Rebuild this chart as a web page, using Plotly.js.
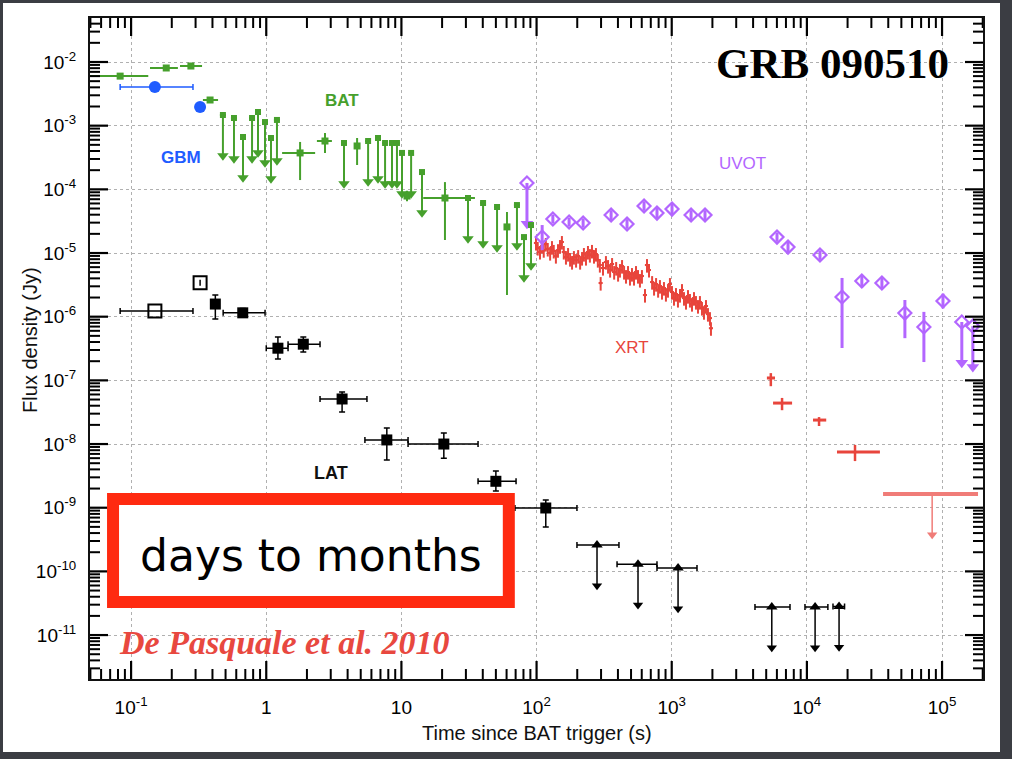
<!DOCTYPE html>
<html>
<head>
<meta charset="utf-8">
<script src="https://cdn.plot.ly/plotly-3.0.1.min.js"></script>
<style>
  html, body { margin: 0; padding: 0; width: 1012px; height: 759px; overflow: hidden; background: #3b3d43; }
  #card { position: absolute; left: 3px; top: 3px; width: 997px; height: 749px; background: #ffffff; }
  #chart { width: 997px; height: 749px; }
</style>
</head>
<body>
<div id="card"><div id="chart"></div></div>
<script>
// ---------------- GRB 090510 multi-wavelength light curve ----------------

// Fermi GBM (s, Jy)
const gbmT   = [0.150, 0.324];
const gbmTLo = [0.083, 0.312];
const gbmTHi = [0.287, 0.336];
const gbmF   = [4.05e-3, 1.96e-3];

// Swift BAT detections
const batT   = [0.083, 0.182, 0.277, 0.384, 1.78, 2.72, 4.70, 11.0, 21.0, 60.4];
const batTLo = [0.040, 0.138, 0.230, 0.340, 1.31, 2.37, 4.60, 10.6, 14.5, 59.0];
const batTHi = [0.134, 0.222, 0.335, 0.440, 2.30, 3.06, 4.80, 11.4, 35.0, 62.0];
const batF   = [6.0e-3, 8.05e-3, 8.65e-3, 2.53e-3, 3.73e-4, 5.74e-4, 4.8e-4, 7.85e-5, 7.31e-5, 2.57e-5];
const batFLo = [5.6e-3, 7.6e-3, 8.2e-3, 2.35e-3, 1.40e-4, 3.72e-4, 2.41e-4, 6.5e-5, 1.60e-5, 2.19e-6];
const batFHi = [6.4e-3, 8.5e-3, 9.1e-3, 2.7e-3, 5.55e-4, 7.67e-4, 6.4e-4, 9.5e-5, 1.30e-4, 4.41e-5];

// Swift BAT upper limits
const batUlT = [0.478, 0.577, 0.673, 0.785, 0.869, 0.979, 1.084, 1.20, 3.76, 5.67, 6.71, 7.57,
                8.52, 9.27, 10.1, 11.8, 14.2, 31.1, 40.2, 51.0, 71.6, 80.7, 91.0];
const batUlF = [1.47e-3, 1.32e-3, 6.64e-4, 1.32e-3, 1.64e-3, 1.14e-3, 6.4e-4, 1.23e-3, 5.35e-4, 5.74e-4,
                6.4e-4, 5.35e-4, 5.35e-4, 5.35e-4, 3.73e-4, 3.73e-4, 1.87e-4, 7.31e-5, 6.1e-5, 5.28e-5,
                5.67e-5, 1.78e-5, 2.75e-5];

// Fermi LAT detections (filled) and early points (open)
const latT   = [0.42, 0.67, 1.22, 1.88, 3.64, 7.8, 20.6, 50.0, 117];
const latTLo = [0.40, 0.48, 1.00, 1.45, 2.50, 5.37, 11.2, 36.9, 69.2];
const latTHi = [0.44, 0.98, 1.45, 2.50, 5.56, 11.2, 36.9, 70.5, 199];
const latF   = [1.58e-6, 1.15e-6, 3.2e-7, 3.7e-7, 5.1e-8, 1.16e-8, 1.0e-8, 2.6e-9, 9.9e-10];
const latFLo = [9.2e-7, 9.8e-7, 2.16e-7, 2.79e-7, 3.18e-8, 5.6e-9, 6.0e-9, 1.83e-9, 4.98e-10];
const latFHi = [2.19e-6, 1.35e-6, 4.8e-7, 4.8e-7, 6.56e-8, 1.79e-8, 1.49e-8, 3.77e-9, 1.32e-9];

const latOpenT   = [0.150, 0.324];
const latOpenTLo = [0.083, 0.324];
const latOpenTHi = [0.287, 0.324];
const latOpenF   = [1.23e-6, 3.4e-6];

// Fermi LAT upper limits
const latUlT   = [280, 563, 1114, 5500, 11500, 17300];
const latUlTLo = [199, 394, 778, 4130, 9680, 15600];
const latUlTHi = [407, 778, 1538, 7500, 14300, 19000];
const latUlF   = [2.6e-10, 1.3e-10, 1.13e-10, 2.75e-11, 2.75e-11, 2.8e-11];

// Swift UVOT detections and upper limits
const uvotT   = [110, 132, 174, 221, 356, 467, 624, 778, 1005, 1390, 1763, 6010, 7250, 12500,
                 18200, 25500, 35900, 53100, 73400, 101600];
const uvotF   = [1.78e-5, 3.42e-5, 3.07e-5, 2.96e-5, 3.95e-5, 2.86e-5, 5.47e-5, 4.24e-5, 4.9e-5, 3.95e-5,
                 3.95e-5, 1.78e-5, 1.24e-5, 9.3e-6, 2.04e-6, 3.63e-6, 3.38e-6, 1.14e-6, 6.9e-7, 1.76e-6];
const uvotFLo = [1.11e-5, 2.9e-5, 2.6e-5, 2.5e-5, 3.3e-5, 2.4e-5, 4.6e-5, 3.5e-5, 4.1e-5, 3.3e-5,
                 3.3e-5, 1.5e-5, 1.03e-5, 7.8e-6, 3.22e-7, 2.9e-6, 2.8e-6, 4.6e-7, 1.94e-7, 1.35e-6];
const uvotFHi = [2.75e-5, 4.0e-5, 3.6e-5, 3.5e-5, 4.7e-5, 3.4e-5, 6.5e-5, 5.1e-5, 5.9e-5, 4.7e-5,
                 4.7e-5, 2.1e-5, 1.5e-5, 1.1e-5, 4.06e-6, 4.5e-6, 4.1e-6, 1.83e-6, 1.19e-6, 2.3e-6];
const uvotUlT = [84.9, 140000, 169000];
const uvotUlF = [1.26e-4, 8.25e-7, 7.1e-7];

// Swift XRT light curve
const xrtT = [99, 102, 106, 110, 113, 117, 121, 126, 130, 134, 139, 144, 149, 154, 159, 165, 171, 177,
              183, 189, 196, 203, 210, 217, 224, 232, 240, 248, 257, 266, 275, 284, 294, 298, 310, 326,
              338, 350, 362, 375, 388, 401, 414, 429, 444, 459, 475, 491, 508, 526, 544, 563, 582, 602,
              634, 656, 679, 716, 740, 766, 793, 818, 847, 876, 906, 938, 970, 1004, 1039, 1075, 1112,
              1151, 1191, 1232, 1275, 1319, 1364, 1412, 1461, 1511, 1564, 1617, 1674, 1732, 1792, 1854,
              1918, 1951];
const xrtF = [1.44e-5, 1.20e-5, 1.04e-5, 1.29e-5, 1.11e-5, 1.39e-5, 1.16e-5, 1.00e-5, 1.24e-5, 1.08e-5,
              8.97e-6, 1.11e-5, 1.29e-5, 1.49e-5, 1.04e-5, 8.65e-6, 9.65e-6, 8.05e-6, 7.22e-6, 8.65e-6,
              7.76e-6, 8.97e-6, 7.22e-6, 8.35e-6, 9.65e-6, 8.35e-6, 1.04e-5, 9.3e-6, 1.08e-5, 8.97e-6,
              9.65e-6, 7.76e-6, 6.48e-6, 3.38e-6, 5.82e-6, 7.22e-6, 6.25e-6, 5.41e-6, 6.72e-6, 5.03e-6,
              5.82e-6, 4.68e-6, 5.41e-6, 6.25e-6, 5.03e-6, 4.35e-6, 5.03e-6, 4.05e-6, 4.68e-6, 4.05e-6,
              5.03e-6, 4.35e-6, 3.77e-6, 4.35e-6, 2.19e-6, 6.48e-6, 5.41e-6, 3.50e-6, 2.82e-6, 3.26e-6,
              2.62e-6, 3.03e-6, 2.44e-6, 2.82e-6, 2.27e-6, 2.62e-6, 3.26e-6, 2.44e-6, 1.96e-6, 2.27e-6,
              1.83e-6, 2.19e-6, 2.62e-6, 1.96e-6, 1.70e-6, 2.11e-6, 1.83e-6, 1.58e-6, 1.96e-6, 1.70e-6,
              1.47e-6, 1.70e-6, 1.37e-6, 1.18e-6, 1.47e-6, 1.10e-6, 9.5e-7, 6.6e-7];

// XRT late-time detections and final upper limit
const xrtLateT   = [5410, 6550, 12300, 22700];
const xrtLateTLo = [5060, 5620, 11100, 16700];
const xrtLateTHi = [5810, 7770, 13900, 34700];
const xrtLateF   = [1.09e-7, 4.4e-8, 2.38e-8, 7.5e-9];
const xrtLateFLo = [8.1e-8, 3.4e-8, 1.92e-8, 5.4e-9];
const xrtLateFHi = [1.30e-7, 5.3e-8, 2.65e-8, 9.7e-9];
const xrtUlT   = [84500];
const xrtUlTLo = [36600];
const xrtUlTHi = [184600];
const xrtUlF   = [1.64e-9];

// Axis tick labels
const xTickVals = [0.1, 1, 10, 100, 1000, 1e4, 1e5];
const xTickText = ['10<sup>-1</sup>', '1', '10', '10<sup>2</sup>', '10<sup>3</sup>', '10<sup>4</sup>', '10<sup>5</sup>'];
const yTickVals = [1e-2, 1e-3, 1e-4, 1e-5, 1e-6, 1e-7, 1e-8, 1e-9, 1e-10, 1e-11];
const yTickText = ['10<sup>-2</sup>', '10<sup>-3</sup>', '10<sup>-4</sup>', '10<sup>-5</sup>', '10<sup>-6</sup>',
                   '10<sup>-7</sup>', '10<sup>-8</sup>', '10<sup>-9</sup>', '10<sup>-10</sup>', '10<sup>-11</sup>'];

// ---------------- styling ----------------
const C_GBM = '#1f5cff', C_BAT = '#46a02c', C_LAT = '#000000', C_UVOT = '#b366ff',
      C_XRT = '#e8453c', C_XRT_UL = '#f07c78';
const ARROW_DEX = 0.64;           // length of upper-limit arrows, in decades
const arrowScale = Math.pow(10, -ARROW_DEX);
const SANS = 'Liberation Sans, Arial, sans-serif';
const SERIF = 'Liberation Serif, Times New Roman, serif';
const X_RANGE = [-1.304, 5.303];
const Y_RANGE = [-11.69, -1.309];
const PLOT_W = 893, PLOT_H = 661;  // plot-area size in px (width/height minus margins)

function band(c, lo, hi, style) {
  return Object.assign({
    type: 'data', symmetric: false,
    array: c.map((v, i) => hi[i] - v),
    arrayminus: c.map((v, i) => v - lo[i])
  }, style);
}

// vertical arrow stem for upper limits
function stem(f, style) {
  return Object.assign({
    type: 'data', symmetric: false,
    array: f.map(() => 0),
    arrayminus: f.map(v => v - v * arrowScale)
  }, style);
}

function upperLimits(t, f, color, topMarker, errX, stemWidth, headSize) {
  return [
    {
      x: t, y: f, type: 'scatter', mode: 'markers', hoverinfo: 'skip',
      marker: topMarker,
      error_y: stem(f, { color: color, thickness: stemWidth, width: 0 }),
      error_x: errX
    },
    {
      x: t, y: f.map(v => v * arrowScale), type: 'scatter', mode: 'markers', hoverinfo: 'skip',
      marker: { symbol: 'triangle-down', size: headSize, color: color }
    }
  ];
}

const traces = [];

// XRT
traces.push({
  x: xrtT, y: xrtF, type: 'scatter', mode: 'markers', hoverinfo: 'skip',
  marker: { size: 3, color: C_XRT },
  error_x: { type: 'percent', value: 3.5, color: C_XRT, thickness: 2, width: 0 },
  error_y: { type: 'percent', value: 24, color: C_XRT, thickness: 2, width: 0 }
});
traces.push({
  x: xrtLateT, y: xrtLateF, type: 'scatter', mode: 'markers', hoverinfo: 'skip',
  marker: { size: 3, color: C_XRT },
  error_x: band(xrtLateT, xrtLateTLo, xrtLateTHi, { color: C_XRT, thickness: 3, width: 0 }),
  error_y: band(xrtLateF, xrtLateFLo, xrtLateFHi, { color: C_XRT, thickness: 2.5, width: 0 })
});
traces.push(...upperLimits(xrtUlT, xrtUlF, C_XRT_UL, { size: 1, color: C_XRT_UL },
  band(xrtUlT, xrtUlTLo, xrtUlTHi, { color: C_XRT_UL, thickness: 4, width: 0 }), 1.5, 9));

// UVOT
traces.push({
  x: uvotT, y: uvotF, type: 'scatter', mode: 'markers', hoverinfo: 'skip',
  marker: { symbol: 'diamond-open', size: 10, color: C_UVOT, line: { width: 2.2, color: C_UVOT } },
  error_y: band(uvotF, uvotFLo, uvotFHi, { color: C_UVOT, thickness: 3, width: 0 })
});
traces.push(...upperLimits(uvotUlT, uvotUlF, C_UVOT,
  { symbol: 'diamond-open', size: 10, color: C_UVOT, line: { width: 2.2, color: C_UVOT } },
  undefined, 3, 11));

// BAT
traces.push({
  x: batT, y: batF, type: 'scatter', mode: 'markers', hoverinfo: 'skip',
  marker: { symbol: 'square', size: 7, color: C_BAT },
  error_x: band(batT, batTLo, batTHi, { color: C_BAT, thickness: 2, width: 0 }),
  error_y: band(batF, batFLo, batFHi, { color: C_BAT, thickness: 2, width: 0 })
});
traces.push(...upperLimits(batUlT, batUlF, C_BAT, { symbol: 'square', size: 6, color: C_BAT },
  { type: 'percent', value: 5, color: C_BAT, thickness: 2, width: 0 }, 2, 10));

// GBM
traces.push({
  x: gbmT, y: gbmF, type: 'scatter', mode: 'markers', hoverinfo: 'skip',
  marker: { symbol: 'circle', size: 12, color: C_GBM },
  error_x: band(gbmT, gbmTLo, gbmTHi, { color: C_GBM, thickness: 1.5, width: 3 })
});

// LAT
traces.push({
  x: latOpenT, y: latOpenF, type: 'scatter', mode: 'markers', hoverinfo: 'skip',
  marker: { symbol: 'square-open', size: 13, color: C_LAT, line: { width: 2, color: C_LAT } },
  error_x: band(latOpenT, latOpenTLo, latOpenTHi, { color: C_LAT, thickness: 1.5, width: 3 })
});
traces.push({
  x: latT, y: latF, type: 'scatter', mode: 'markers', hoverinfo: 'skip',
  marker: { symbol: 'square', size: 11, color: C_LAT },
  error_x: band(latT, latTLo, latTHi, { color: C_LAT, thickness: 1.5, width: 3 }),
  error_y: band(latF, latFLo, latFHi, { color: C_LAT, thickness: 1.5, width: 3 })
});
traces.push(...upperLimits(latUlT, latUlF, C_LAT, { symbol: 'triangle-up', size: 10, color: C_LAT },
  band(latUlT, latUlTLo, latUlTHi, { color: C_LAT, thickness: 1.5, width: 3 }), 1.5, 9));

// ---------------- axes: ROOT-style inward ticks on all four sides ----------------
function logTicks(range, major) {
  const out = [];
  for (let d = Math.floor(range[0]); d <= Math.ceil(range[1]); d++) {
    const ks = major ? [1] : [2, 3, 4, 5, 6, 7, 8, 9];
    ks.forEach(k => {
      const v = k * Math.pow(10, d);
      const lg = Math.log10(v);
      if (lg > range[0] && lg < range[1]) out.push(v);
    });
  }
  return out;
}

function tickShapes() {
  const s = [];
  [[true, 18, 2.2], [false, 10, 2]].forEach(([major, len, w]) => {
    const line = { color: '#000', width: w };
    const lx = len / PLOT_H, ly = len / PLOT_W;
    logTicks(X_RANGE, major).forEach(v => {
      s.push({ type: 'line', xref: 'x', yref: 'paper', x0: v, x1: v, y0: 0, y1: lx, line: line, layer: 'above' });
      s.push({ type: 'line', xref: 'x', yref: 'paper', x0: v, x1: v, y0: 1, y1: 1 - lx, line: line, layer: 'above' });
    });
    logTicks(Y_RANGE, major).forEach(v => {
      s.push({ type: 'line', xref: 'paper', yref: 'y', x0: 0, x1: ly, y0: v, y1: v, line: line, layer: 'above' });
      s.push({ type: 'line', xref: 'paper', yref: 'y', x0: 1, x1: 1 - ly, y0: v, y1: v, line: line, layer: 'above' });
    });
  });
  return s;
}

const tickFont = { family: SANS, size: 19, color: '#000' };

const axisCommon = {
  type: 'log', showline: true, linecolor: '#111', linewidth: 2, mirror: true,
  ticks: '', showgrid: true, gridcolor: '#b0b0b0', griddash: 'dot', gridwidth: 1,
  zeroline: false, tickfont: tickFont, tickmode: 'array', fixedrange: true
};

function label(x, y, text, font, extra) {
  return Object.assign({ xref: 'paper', yref: 'paper', x: x, y: y, xanchor: 'center', yanchor: 'middle',
                         text: text, showarrow: false, font: font }, extra || {});
}

const layout = {
  width: 997, height: 749,
  margin: { l: 87, r: 17, t: 15, b: 73 },
  paper_bgcolor: '#ffffff', plot_bgcolor: '#ffffff',
  showlegend: false,
  xaxis: Object.assign({}, axisCommon, {
    range: X_RANGE, tickvals: xTickVals, ticktext: xTickText, ticklabelstandoff: 10
  }),
  yaxis: Object.assign({}, axisCommon, {
    range: Y_RANGE, tickvals: yTickVals, ticktext: yTickText, ticklabelstandoff: 8
  }),
  shapes: tickShapes().concat([
    { type: 'rect', xref: 'paper', yref: 'paper', x0: 0.0258, x1: 0.469, y0: 0.1165, y1: 0.2723,
      fillcolor: '#ffffff', line: { color: '#ff2a10', width: 12 }, layer: 'above' }
  ]),
  annotations: [
    // axis titles
    label(0.5, -0.0817, 'Time since BAT trigger (s)', { family: SANS, size: 20, color: '#111' }),
    label(-0.0672, 0.513, 'Flux density (Jy)', { family: SANS, size: 20, color: '#111' }, { textangle: -90 }),
    // burst name and instrument labels
    label(0.832, 0.9319, 'GRB 090510', { family: SERIF, size: 43, weight: 'bold', color: '#000' }),
    label(0.2822, 0.8759, 'BAT', { family: SANS, size: 17, weight: 'bold', color: C_BAT }),
    label(0.1019, 0.7882, 'GBM', { family: SANS, size: 17, weight: 'bold', color: C_GBM }),
    label(0.7312, 0.7806, 'UVOT', { family: SANS, size: 17, color: C_UVOT }),
    label(0.6069, 0.5008, 'XRT', { family: SANS, size: 17, color: C_XRT }),
    label(0.2699, 0.3116, 'LAT', { family: SANS, size: 18, weight: 'bold', color: '#111' }),
    label(0.0302, 0.0545, 'De Pasquale et al. 2010',
          { family: SERIF, size: 34, weight: 'bold', style: 'italic', color: '#e8483f' }, { xanchor: 'left' }),
    label(0.2475, 0.1861, 'days to months', { family: 'DejaVu Sans, sans-serif', size: 44, color: '#000' })
  ]
};

Plotly.newPlot('chart', traces, layout, { staticPlot: true, displayModeBar: false });
</script>
</body>
</html>
